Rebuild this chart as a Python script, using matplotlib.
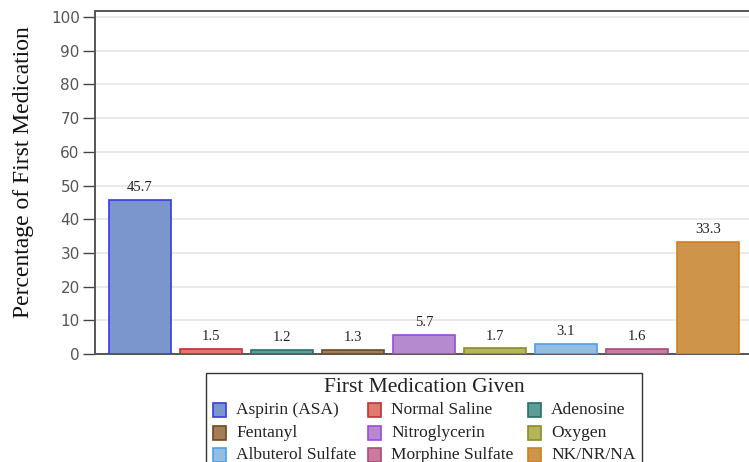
import matplotlib
matplotlib.use("Agg")
import matplotlib.pyplot as plt
from matplotlib.patches import Rectangle

categories = ["Aspirin (ASA)", "Normal Saline", "Adenosine", "Fentanyl", "Nitroglycerin",
              "Oxygen", "Albuterol Sulfate", "Morphine Sulfate", "NK/NR/NA"]
values = [45.7, 1.5, 1.2, 1.3, 5.7, 1.7, 3.1, 1.6, 33.3]
fills = ["#7b96cc", "#de7b6e", "#5c9e96", "#a57e58", "#b68acf", "#b5b55a", "#94bde0", "#cc7aa0", "#cd944a"]
edges = ["#3a3ae6", "#c0303a", "#2a6e66", "#6b4a28", "#9a4ae0", "#8a8a30", "#4aa0f0", "#aa4a7a", "#d08020"]
yticks = [0, 10, 20, 30, 40, 50, 60, 70, 80, 90, 100]

W, H = 749, 462
fig = plt.figure(figsize=(W / 100, H / 100), dpi=100)
ax = fig.add_axes([95 / W, (H - 354) / H, (753 - 95) / W, (354 - 11) / H])

x = list(range(len(values)))
ax.bar(x, values, width=0.86, color=fills, edgecolor=edges, linewidth=1.2, zorder=3)
for xi, v in zip(x, values):
    ax.annotate(f"{v}", (xi, v), xytext=(0, 4), textcoords="offset points",
                ha="center", va="bottom", fontsize=10.5, family="Liberation Serif", color="#222222")

ax.set_xlim(-0.634, 8.634)
ax.set_ylim(0, 101.8)
ax.set_yticks(yticks)
ax.set_xticks([])
ax.grid(axis="y", color="#e6e6e6", linewidth=1.2, zorder=0)
ax.tick_params(axis="y", length=9, width=1, color="#444444", labelsize=11, labelcolor="#555555", pad=2)
for lbl in ax.get_yticklabels():
    lbl.set_family("DejaVu Sans")
for s in ["left", "top", "bottom"]:
    ax.spines[s].set_color("#555555")
    ax.spines[s].set_linewidth(1.4)
ax.spines["right"].set_visible(False)


def fx(px):
    return px / W


def fy(py):
    return 1 - py / H


fig.text(fx(24), fy(172), "Percentage of First Medication", rotation=90, ha="center", va="center",
         family="Liberation Serif", fontsize=17, color="#111111")

# legend box
fig.patches.append(Rectangle((fx(206), fy(475)), fx(642) - fx(206), fy(373) - fy(475),
                             transform=fig.transFigure, facecolor="white", edgecolor="#333333",
                             linewidth=1.0))
fig.text(fx(424), fy(387), "First Medication Given", ha="center", va="center",
         family="Liberation Serif", fontsize=15.5, color="#222222")
col_px = [213, 368, 528]
row_py = [410, 433, 455]
for i, (lab, fc, ec) in enumerate(zip(categories, fills, edges)):
    r, c = divmod(i, 3)
    px, py = col_px[c], row_py[r]
    fig.patches.append(Rectangle((fx(px), fy(py + 7)), fx(13), 14 / H, transform=fig.transFigure,
                                 facecolor=fc, edgecolor=ec, linewidth=1.2))
    fig.text(fx(px + 23), fy(py), lab, ha="left", va="center", family="Liberation Serif",
             fontsize=12.5, color="#222222")

fig.savefig("out.png", dpi=100)
